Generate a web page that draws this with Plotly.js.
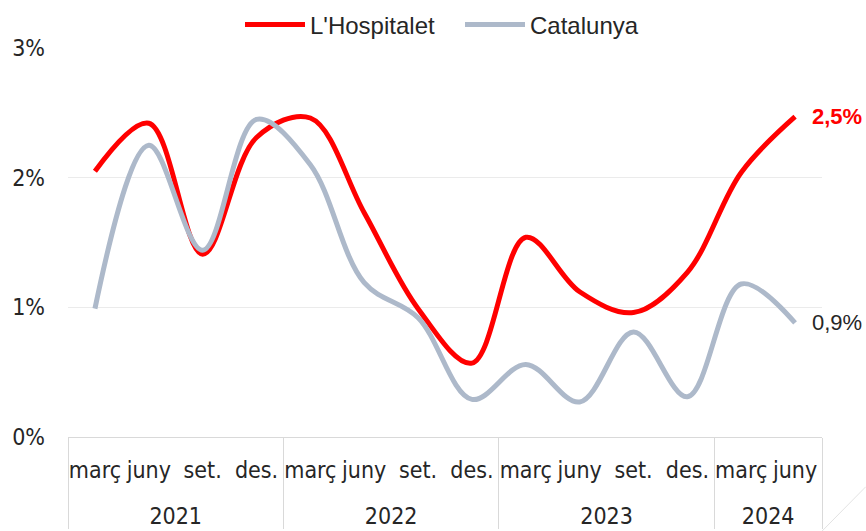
<!DOCTYPE html>
<html>
<head>
<meta charset="utf-8">
<script src="https://cdn.plot.ly/plotly-3.0.1.min.js"></script>
<style>
html,body{margin:0;padding:0;background:#fff;}
#chart{width:866px;height:531px;}
</style>
</head>
<body>
<div id="chart"></div>
<script>
// ---- data ----
const years = ['2021','2021','2021','2021','2022','2022','2022','2022','2023','2023','2023','2023','2024','2024'];
const months = ['març','juny','set.','des.','març','juny','set.','des.','març','juny','set.','des.','març','juny'];
const hospitalet = [2.05, 2.42, 1.41, 2.31, 2.46, 1.73, 0.99, 0.57, 1.54, 1.12, 0.96, 1.27, 2.04, 2.47];
const catalunya  = [0.99, 2.25, 1.44, 2.45, 2.10, 1.19, 0.92, 0.29, 0.56, 0.27, 0.81, 0.31, 1.18, 0.88];
const yTickVals = [0, 1, 2, 3];
const yTickText = ['0%', '1%', '2%', '3%'];
const lastHosp = '2,5%';
const lastCat = '0,9%';

const narrow = '"DejaVu Sans Condensed", "Liberation Sans Narrow", sans-serif';
const regular = '"Liberation Sans", Arial, sans-serif';
const textCol = '#262626';
const gridCol = '#EBEBEB';
const axCol = '#D9D9D9';

// month labels get an empty second line so the year row sits lower, as in the reference
const monthLabels = months.map(m => m + '<br> ');
const xcat = [years, monthLabels];

const traces = [
  {
    x: xcat, y: hospitalet, name: "L'Hospitalet", type: 'scatter', mode: 'lines',
    line: {color: '#FF0000', width: 5, shape: 'spline', smoothing: 1}
  },
  {
    x: xcat, y: catalunya, name: 'Catalunya', type: 'scatter', mode: 'lines',
    line: {color: '#ADB9CA', width: 5, shape: 'spline', smoothing: 1}
  }
];

const n = months.length;
const layout = {
  width: 866, height: 531,
  margin: {l: 68, r: 44, t: 48, b: 94, autoexpand: false},
  paper_bgcolor: '#fff', plot_bgcolor: '#fff',
  showlegend: true,
  legend: {
    orientation: 'h', x: 240/866, xref: 'container', xanchor: 'left',
    y: 1 - 25/531, yref: 'container', yanchor: 'middle',
    font: {family: regular, size: 24, color: textCol},
    itemwidth: 60, entrywidth: 145, entrywidthmode: 'pixels', traceorder: 'normal'
  },
  xaxis: {
    type: 'multicategory',
    range: [-0.5, n - 0.5],
    showgrid: false, zeroline: false,
    showline: true, linecolor: axCol, linewidth: 1,
    showdividers: true, dividercolor: axCol, dividerwidth: 1,
    tickfont: {family: narrow, size: 23, color: textCol},
    tickangle: 0,
    ticklabelstandoff: 12,
    ticks: ''
  },
  yaxis: {
    range: [0, 3],
    tickvals: yTickVals, ticktext: yTickText,
    showgrid: true, gridcolor: gridCol, gridwidth: 1,
    zeroline: false, showline: false,
    tickfont: {family: narrow, size: 23, color: textCol},
    ticklabelstandoff: 22
  },
  annotations: [
    {
      x: [years[n-1], monthLabels[n-1]], y: hospitalet[n-1], xref: 'x', yref: 'y',
      text: '<b>' + lastHosp + '</b>', showarrow: false, xanchor: 'left', xshift: 15,
      font: {family: regular, size: 22, color: '#FF0000'}
    },
    {
      x: [years[n-1], monthLabels[n-1]], y: catalunya[n-1], xref: 'x', yref: 'y',
      text: lastCat, showarrow: false, xanchor: 'left', xshift: 15,
      font: {family: regular, size: 22, color: textCol}
    }
  ],
  shapes: [
    {type: 'line', xref: 'paper', yref: 'paper', x0: 1.0, y0: -0.242, x1: 1.058, y1: -0.128,
     line: {color: '#E3E3E3', width: 1}}
  ]
};

Plotly.newPlot('chart', traces, layout, {displayModeBar: false, staticPlot: true});
</script>
</body>
</html>
